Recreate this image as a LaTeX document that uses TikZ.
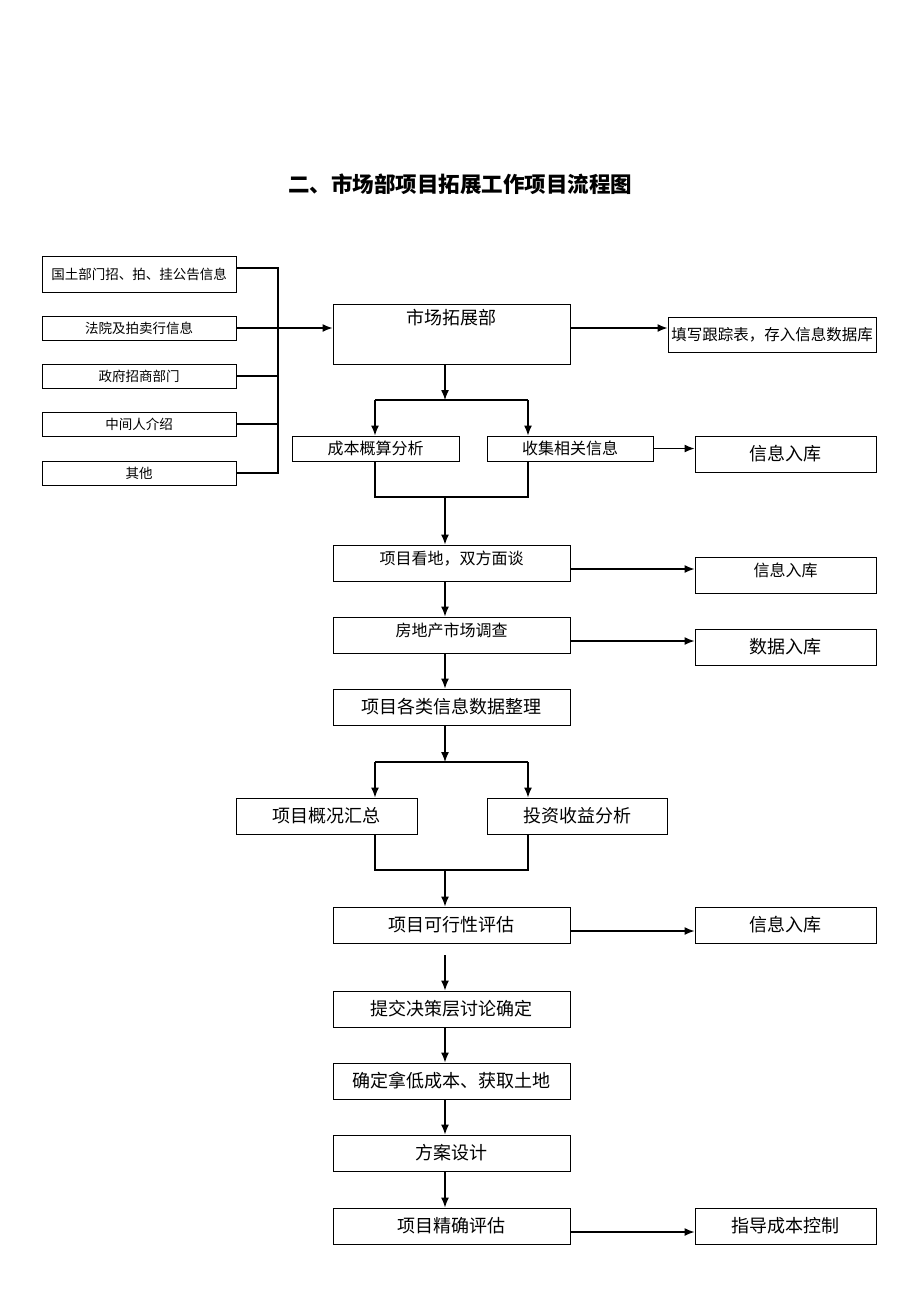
\documentclass[tikz,border=0pt]{standalone}
\usepackage{fontspec}
\newfontfamily\cjk{Noto Sans CJK SC}
\usepackage{tikz}
\usetikzlibrary{arrows.meta}

\tikzset{
	box/.style={draw,line width=1pt,minimum width=237pt,minimum height=36pt,inner sep=0pt,font=\cjk\fontsize{18}{18}\selectfont},
	srcbox/.style={box,minimum width=194pt,minimum height=24pt,font=\cjk\fontsize{13.5}{13.5}\selectfont},
	sidebox/.style={box,minimum width=181pt},
	smallbox/.style={box,minimum height=25pt,font=\cjk\fontsize{16}{16}\selectfont},
	raised/.style={text height=19pt,text depth=17pt},
	arr/.style={-{Latex[length=10pt,width=8pt]},line width=1.3pt},
	ln/.style={line width=1.3pt}
}

\begin{document}
\begin{tikzpicture}[x=1pt,y=-1pt]
				\useasboundingbox (0,0) rectangle (920,1302);
				\node (title) at (460,184) {\cjk\bfseries\fontsize{21.5}{21.5}\selectfont 二、市场部项目拓展工作项目流程图};
				% sources
				\node [srcbox,minimum height=36pt] (src1) at (139,274) {国土部门招、拍、挂公告信息};
				\node [srcbox] (src2) at (139,328) {法院及拍卖行信息};
				\node [srcbox] (src3) at (139,376) {政府招商部门};
				\node [srcbox] (src4) at (139,424) {中间人介绍};
				\node [srcbox] (src5) at (139,473) {其他};
				\coordinate (bus) at (278,0);
				\coordinate (spine) at (445,0);
				\coordinate (lsplit) at (375,0);
				\coordinate (rsplit) at (528,0);
				% main column
				\node [box,minimum height=60pt,text height=20pt,text depth=40pt] (mkt) at (451.5,334) {市场拓展部};
				\node [box,minimum width=208pt,minimum height=35pt,font=\cjk\fontsize{15.5}{15.5}\selectfont] (track) at (772,334.5) {填写跟踪表，存入信息数据库};
				\node [smallbox,minimum width=167pt] (cost) at (375.5,448.5) {成本概算分析};
				\node [smallbox,minimum width=166pt] (collect) at (570,448.5) {收集相关信息};
				\node [sidebox] (info1) at (785.5,454) {信息入库};
				\node [box,raised,font=\cjk\fontsize{16}{16}\selectfont] (visit) at (451.5,563) {项目看地，双方面谈};
				\node [sidebox,raised,font=\cjk\fontsize{16}{16}\selectfont] (info2) at (785.5,575) {信息入库};
				\node [box,raised,font=\cjk\fontsize{16}{16}\selectfont] (survey) at (451.5,635) {房地产市场调查};
				\node [sidebox] (data) at (785.5,647) {数据入库};
				\node [box] (sort) at (451.5,707) {项目各类信息数据整理};
				\node [sidebox] (summary) at (326.5,816) {项目概况汇总};
				\node [sidebox,minimum width=180pt] (invest) at (577,816) {投资收益分析};
				\node [box] (feas) at (451.5,925) {项目可行性评估};
				\node [sidebox] (info3) at (785.5,925) {信息入库};
				\node [box] (submit) at (451.5,1009) {提交决策层讨论确定};
				\node [box] (confirm) at (451.5,1081) {确定拿低成本、获取土地};
				\node [box] (design) at (451.5,1153) {方案设计};
				\node [box] (precise) at (451.5,1226) {项目精确评估};
				\node [sidebox] (guide) at (785.5,1226) {指导成本控制};
				% source bus
				\draw [ln] ([yshift=6pt]src1.east) -- ([yshift=6pt]src1.east -| bus) -- (src5.east -| bus) -- (src5.east);
				\draw [ln] (src3.east) -- (src3.east -| bus);
				\draw [ln] (src4.east) -- (src4.east -| bus);
				\draw [arr] (src2.east) -- (src2.east -| mkt.west);
				\draw [arr] ([yshift=6pt]mkt.east) -- ([yshift=6pt]mkt.east -| track.west);
				% first fork
				\coordinate (fork1) at (445,400);
				\coordinate (join1) at (445,497);
				\draw [arr] (mkt.south -| spine) -- (fork1);
				\draw [ln] (fork1 -| lsplit) -- (fork1 -| rsplit);
				\draw [arr] (fork1 -| lsplit) -- (cost.north -| lsplit);
				\draw [arr] (fork1 -| rsplit) -- (collect.north -| rsplit);
				\draw [arr] (collect.east) -- (collect.east -| info1.west);
				\draw [ln] (cost.south -| lsplit) -- (join1 -| lsplit) -- (join1 -| rsplit) -- (collect.south -| rsplit);
				\draw [arr] (join1) -- (visit.north -| spine);
				\draw [arr] ([yshift=-6pt]visit.east) -- ([yshift=-6pt]visit.east -| info2.west);
				\draw [arr] (visit.south -| spine) -- (survey.north -| spine);
				\draw [arr] ([yshift=-6pt]survey.east) -- ([yshift=-6pt]survey.east -| data.west);
				\draw [arr] (survey.south -| spine) -- (sort.north -| spine);
				% second fork
				\coordinate (fork2) at (445,762);
				\coordinate (join2) at (445,870);
				\draw [arr] (sort.south -| spine) -- (fork2);
				\draw [ln] (fork2 -| lsplit) -- (fork2 -| rsplit);
				\draw [arr] (fork2 -| lsplit) -- (summary.north -| lsplit);
				\draw [arr] (fork2 -| rsplit) -- (invest.north -| rsplit);
				\draw [ln] (summary.south -| lsplit) -- (join2 -| lsplit) -- (join2 -| rsplit) -- (invest.south -| rsplit);
				\draw [arr] (join2) -- (feas.north -| spine);
				\draw [arr] ([yshift=-6pt]feas.east) -- ([yshift=-6pt]feas.east -| info3.west);
				\coordinate (gap) at (445,955);
				\draw [arr] (gap) -- (submit.north -| spine);
				\draw [arr] (submit.south -| spine) -- (confirm.north -| spine);
				\draw [arr] (confirm.south -| spine) -- (design.north -| spine);
				\draw [arr] (design.south -| spine) -- (precise.north -| spine);
				\draw [arr] ([yshift=-6pt]precise.east) -- ([yshift=-6pt]precise.east -| guide.west);
			\end{tikzpicture}
\end{document}
